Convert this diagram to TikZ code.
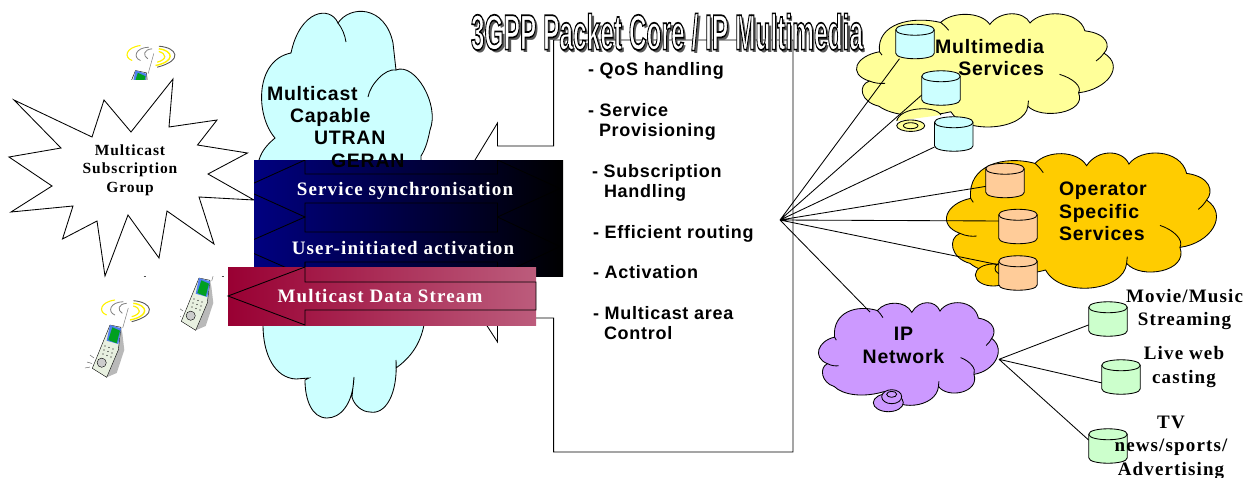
\documentclass[tikz,border=0pt]{standalone}
\usepackage{fontspec}
\usetikzlibrary{shapes.geometric}
\newfontfamily\sansb[LetterSpace=4]{Liberation Sans}
\newfontfamily\serifb[LetterSpace=6]{Liberation Serif}
\newfontfamily\titlef{Liberation Sans}
\pgfdeclarelayer{bg}\pgfdeclarelayer{mid}\pgfsetlayers{bg,mid,main}
\definecolor{cyanc}{HTML}{CCFFFF}\definecolor{yellowc}{HTML}{FFFF99}
\definecolor{orangec}{HTML}{FFCC00}\definecolor{purplec}{HTML}{CC99FF}
\definecolor{cylo}{HTML}{FFCC99}\definecolor{cylg}{HTML}{CCFFCC}
\definecolor{navyc}{HTML}{000080}\definecolor{redl}{HTML}{990033}\definecolor{redr}{HTML}{BC5C7C}
\definecolor{phonebody}{HTML}{E8F0E0}\definecolor{phoneblue}{HTML}{5080F0}\definecolor{phonegreen}{HTML}{00A020}
\tikzset{
 ln/.style={draw=black,line width=.85pt,line join=miter},
 cylbox/.style={rectangle,minimum width=38.5pt,minimum height=34.5pt,inner sep=0pt,outer sep=0pt},
 lbl/.style={inner sep=0pt,outer sep=0pt,text=black},
 sa/.style={lbl,font=\sansb\bfseries\fontsize{18}{20}\selectfont,align=left},
 sc/.style={lbl,font=\sansb\bfseries\fontsize{19.5}{22.5}\selectfont},
 se/.style={lbl,font=\serifb\bfseries\fontsize{19}{23.5}\selectfont,align=center},
 wh/.style={lbl,text=white,font=\serifb\bfseries\fontsize{19}{20}\selectfont},
}
\newcommand\cylnode[4]{% name, x, y, colour
 \node[cylbox] (#1) at (#2,#3) {};
 \path[ln,fill=#4] ([yshift=-5.5pt]#1.north west) .. controls +(0,-7.3) and ([xshift=0pt,yshift=1.8pt]#1.north east) .. ([yshift=-5.5pt]#1.north east)
   -- ([yshift=5.5pt]#1.south east) .. controls ([yshift=-1.8pt]#1.south east) and ([yshift=-1.8pt]#1.south west) .. ([yshift=5.5pt]#1.south west) -- cycle;
 \draw[ln] ([yshift=-5.5pt]#1.north west) .. controls ([yshift=-12.8pt]#1.north west) and ([yshift=-12.8pt]#1.north east) .. ([yshift=-5.5pt]#1.north east);}
\newcommand\cloudshape[2]{%
 \begin{scope}[#2]
 \path[ln,fill=#1] (70,140) .. controls (60,40) and (170,10) .. (263,35)
  .. controls (300,-5) and (390,-5) .. (418,42)
  .. controls (450,-8) and (525,-8) .. (545,37)
  .. controls (580,-12) and (700,-10) .. (718,65)
  .. controls (790,75) and (800,120) .. (778,145)
  .. controls (845,190) and (790,275) .. (698,287)
  .. controls (725,360) and (580,385) .. (538,335)
  .. controls (530,420) and (340,440) .. (295,355)
  .. controls (200,380) and (110,370) .. (68,335)
  .. controls (10,320) and (0,260) .. (38,245)
  .. controls (-32,220) and (-5,155) .. (70,140) -- cycle;
 \draw[ln] (263,35) .. controls (272,42) and (280,52) .. (288,63);
 \draw[ln] (70,140) -- (78,152);
 \draw[ln] (38,245) .. controls (55,253) and (75,255) .. (88,253);
 \draw[ln] (778,145) .. controls (772,155) and (763,165) .. (753,173);
 \draw[ln] (638,221) .. controls (680,235) and (710,265) .. (698,287);
 \draw[ln] (538,335) -- (540,315);
 \end{scope}}
\newcommand\phonerings{%
 \draw[yellow,line width=1.1pt] (115,300) .. controls (100,302) and (98,312) .. (106.7,315);
 \draw[gray,line width=.8pt] (123.3,301.7) .. controls (110,302) and (107,312) .. (115,315);
 \draw[gray,line width=.8pt] (126.7,303.3) .. controls (118,304) and (117,310) .. (122.3,313.3);
 \draw[gray!70!black,line width=.9pt] (133.3,300.7) .. controls (152,302) and (158,315) .. (131.7,321.7);
 \draw[yellow,line width=1.4pt] (133.3,303.3) .. controls (148,305) and (150,316) .. (130,320);
 \draw[yellow,line width=1.2pt] (133.3,306) .. controls (141,308) and (142,314) .. (131.7,316.7);
 \draw[gray,line width=.5pt] (122.7,328) -- (128.3,308);}
\newcommand\phonebodyshape{%
 \fill[gray!55] (121,327.3) -- (122.3,333) -- (124.3,350) -- (116.7,373) -- (106.7,377.3) -- cycle;
 \path[draw=black,line width=.4pt,fill=phonebody] (110,325) -- (121,327.3) -- (118.3,350) -- (106.7,377.3) -- (92.3,368.3) -- cycle;
 \fill[phoneblue] (110,325) -- (121,328.3) -- (118.3,344) -- (106.7,340.7) -- cycle;
 \fill[phonegreen] (112.3,327.3) -- (120,330.7) -- (116.7,343.3) -- (108.3,340) -- cycle;
 \foreach \kx/\ky in {105/346,109/347.5,113/349,104/350,108/351.5,112/353,103/354,107/355.5,111/357}
  \fill[black] (\kx,\ky) circle[radius=.7];
 \path[draw=black,line width=.4pt,fill=gray!40] (101.7,362.7) circle[radius=4.6];
 \draw[gray!60!black,line width=.4pt] (87,362) -- (92,363.5) (90,355) -- (94,358) (85,368)--(90,367);}
\begin{document}
\begin{tikzpicture}[x=1pt,y=-1pt]
\useasboundingbox (0,0) rectangle (1259,477);
% left cloud
\path[ln,fill=cyanc] (259,160) .. controls (262,150) and (268,144) .. (275,138)
 .. controls (255,115) and (255,60) .. (291,53)
 .. controls (300,10) and (330,5) .. (338,23)
 .. controls (350,5) and (385,5) .. (393,43) -- (396,70)
 .. controls (415,62) and (440,105) .. (430,130)
 .. controls (428,140) and (426,148) .. (421,156) -- (424,325)
 .. controls (420,345) and (410,358) .. (396,368) -- (396,360)
 .. controls (398,395) and (385,415) .. (370,412)
 .. controls (362,412) and (354,405) .. (352,397) -- (354,377)
 .. controls (353,405) and (340,418) .. (327,418)
 .. controls (312,418) and (305,400) .. (305,380) -- (309,378) -- (296,379)
 .. controls (275,378) and (263,355) .. (263,325) -- cycle;
\draw[ln] (338,23) .. controls (342,28) and (345,35) .. (346,42);
\draw[ln] (396,70) .. controls (385,68) and (370,85) .. (368,97);
% star
\path[ln,fill=white] (173,79) -- (169,127) -- (217,120) -- (197.5,145) -- (247.5,153) -- (208,174) -- (254,200) -- (199,197) -- (214,244) -- (167,211) -- (159,258) -- (128,215) -- (105,276) -- (97,221) -- (62.5,239) -- (73,206) -- (11,212) -- (52,186) -- (9,157) -- (61,148) -- (14,100) -- (92,137) -- (104,100) -- (131,132) -- cycle;
% big box outline
\draw[ln] (475,160) -- (497.5,123) -- (497.5,146) -- (553.6,146) -- (553.6,40) -- (793,40) -- (793,452) -- (553.6,452) -- (553.6,318) -- (536,318);
\draw[ln] (486.5,325) -- (497.5,342) -- (497.5,325);
% phones
\begin{scope}
 \clip (120,40) rectangle (190,79);
 \begin{scope}[shift={(25.5,-254.5)}]\phonebodyshape\phonerings\end{scope}
\end{scope}
\phonebodyshape\phonerings
\begin{scope}
 \clip (180,276) rectangle (230,340);
 \begin{scope}[shift={(89,-47)}]\phonebodyshape\draw[gray,line width=.5pt] (122.7,328) -- (128.3,308);\end{scope}
\end{scope}
\draw[gray!60!black,line width=.5pt] (143.5,276) -- (146,276) (221.5,276) -- (224,276);
% gradient boxes
\path[left color=navyc,middle color=navyc!75!black,right color=black] (254,160) rectangle (563,276);
\begin{scope}
 \clip (254,160) rectangle (563,276);
 \draw[ln] (242,188.5) -- (305,160) -- (305,174) -- (497.5,174) -- (497.5,160) -- (560,188.5) -- (497.5,217) -- (497.5,203) -- (305,203) -- (305,217) -- cycle;
 \draw[ln] (238,246.5) -- (305,217) -- (305,232) -- (497.5,232) -- (497.5,217) -- (560,246.5) -- (497.5,276) -- (497.5,262) -- (305,262) -- (305,276) -- cycle;
\end{scope}
\path[left color=redl,middle color=redl!50!redr,right color=redr] (228,267) rectangle (536,325);
\draw[ln] (305,262) -- (305,282) -- (536,282) -- (536,310) -- (305,310) -- (305,325) -- (228,296) -- (305,267);
% labels left
\node[lbl,font=\serifb\bfseries\fontsize{15.5}{18.5}\selectfont,align=center] (grp) at (130,170) {Multicast\\Subscription\\Group};
\node[sc,anchor=base west] (t1) at (267,100.5) {Multicast};
\node[sc,anchor=base west] (t2) at (290,122.5) {Capable};
\node[sc,anchor=base west] (t3) at (314,144.5) {UTRAN};
\node[sc,anchor=base west] (t4) at (331,167.5) {GERAN};
\node[wh] (w1) at (405,191) {Service synchronisation};
\node[wh] (w2) at (403,247.5) {User-initiated activation};
\node[wh] (w3) at (380,296.5) {Multicast Data Stream};
% list
\node[sa,anchor=west] (l1) at (588,71) {- QoS handling};
\node[sa,anchor=west] (l2) at (588,122) {- Service\\\hspace*{11pt}Provisioning};
\node[sa,anchor=west] (l3) at (592,183) {- Subscription\\\hspace*{12pt}Handling};
\node[sa,anchor=west] (l4) at (593,234) {- Efficient routing};
\node[sa,anchor=west] (l5) at (593,272) {- Activation};
\node[sa,anchor=west] (l6) at (593,323) {- Multicast area\\\hspace*{11pt}Control};
% title
\node[lbl,font=\titlef\bfseries\fontsize{50}{50}\selectfont,text=gray!70!black] (titleshadow) at (669.5,34.5) {\scalebox{.49}[1]{3GPP Packet Core / IP Multimedia}};
\node[lbl,font=\titlef\bfseries\fontsize{50}{50}\selectfont] (title) at (667,32) {\scalebox{.49}[1]{\special{pdf:code q 2 Tr 1.7 w 0 0 0 RG 1 1 1 rg}3GPP Packet Core / IP Multimedia\special{pdf:code Q}}};
% right clouds
\begin{pgfonlayer}{bg}
\cloudshape{yellowc}{shift={(857.3,12.7)},xscale=.317,yscale=.279}
\cloudshape{orangec}{shift={(947.3,151.7)},xscale=.3333,yscale=.3333}
\cloudshape{purplec}{shift={(819,301.7)},xscale=.222,yscale=.253}
\draw[ln,fill=yellowc] (896.7,121) .. controls (900,107) and (935,105) .. (941,115);
\path[ln,fill=yellowc] (910.7,125.7) ellipse[x radius=14,y radius=5.7];
\draw[ln] (910.7,125.7) ellipse[x radius=7.3,y radius=3];
\path[ln,fill=orangec] (993.3,275) ellipse[x radius=18,y radius=11];
\draw[ln] (1003,268.5) ellipse[x radius=8,y radius=6];
\path[ln,fill=purplec] (888.3,402.7) ellipse[x radius=15,y radius=9];
\path[ln,fill=purplec] (891.7,396.7) ellipse[x radius=10,y radius=7];
\draw[ln] (891.7,394.3) ellipse[x radius=5,y radius=3];
\end{pgfonlayer}
% cylinders
\cylnode{c1}{915}{41.5}{cyanc}
\cylnode{c2}{941}{88}{cyanc}
\cylnode{c3}{953.8}{134}{cyanc}
\cylnode{o1}{1005}{180.5}{cylo}
\cylnode{o2}{1018}{226.5}{cylo}
\cylnode{o3}{1018}{273}{cylo}
\cylnode{g1}{1108}{319}{cylg}
\cylnode{g2}{1121}{377}{cylg}
\cylnode{g3}{1108}{446}{cylg}
\coordinate (hub) at (780,220);
\coordinate (iptop) at (870,312);
\coordinate (iphub) at (999,359.3);
\begin{pgfonlayer}{mid}
\draw[ln] (hub) -- (c1.228) (hub) -- (c2.200) (hub) -- (c3.214) (hub) -- (o1.197) (hub) -- (o2.164) (hub) -- (o3.157) (hub) -- (iptop);
\draw[ln] (iphub) -- (g1.197) (iphub) -- (g2.197) (iphub) -- (g3.163);
\end{pgfonlayer}
% right labels
\node[sc,align=right,anchor=east] (m1) at (1044,57.5) {Multimedia\\Services};
\node[sc,align=left,anchor=west] (op) at (1059,211.5) {Operator\\Specific\\Services};
\node[sc,align=center] (ip) at (903.5,345.5) {IP\\Network};
\node[se] (mv) at (1184.5,309.5) {Movie/Music\\Streaming};
\node[se] (lv) at (1184,367) {Live web\\casting};
\node[se] (tv) at (1171,447.5) {TV\\news/sports/\\Advertising};
\end{tikzpicture}
\end{document}
